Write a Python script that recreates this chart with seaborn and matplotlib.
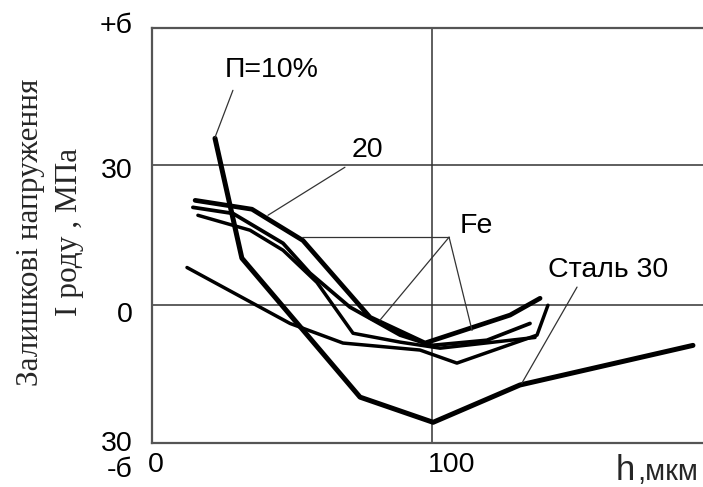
import matplotlib
matplotlib.use("Agg")
import matplotlib.pyplot as plt
import matplotlib.transforms as mtransforms
import seaborn as sns
import pandas as pd

# ---- data ----
a_x = [22.5, 32.1, 74.3, 100.4, 131.4, 193.2]
a_y = [35.8, 10.1, -19.7, -25.1, -17.1, -8.6]

b_x = [12.5, 49.3, 68.2, 95.7, 108.9, 137.5, 141.4]
b_y = [8.1, -3.9, -8.1, -9.6, -12.4, -6.4, 0.0]

c_x = [15.4, 35.7, 41.1, 53.9, 77.9, 97.5, 127.9, 138.6]
c_y = [22.5, 20.6, 18.6, 13.9, -2.6, -8.1, -2.1, 1.5]

d_x = [14.6, 28.9, 46.8, 56.4, 70.7, 88.6, 100.0, 119.6, 135.0]
d_y = [21.0, 19.7, 13.3, 6.9, -0.4, -6.4, -8.6, -7.5, -3.9]

e_x = [16.4, 35.0, 46.8, 58.9, 71.8, 88.6, 102.9, 136.8]
e_y = [19.3, 16.1, 11.8, 4.9, -6.0, -7.9, -9.2, -6.9]

x_ticks = [0, 100]
x_tick_labels = ["0", "100"]
y_ticks = [59.4, 30, 0, -29.6]
y_tick_labels = ["+б", "30", "0", "30\n-б"]

labels = ["П=10%", "20", "Fe", "Сталь 30"]
label_x = [42.9, 77.1, 115.7, 162.9]
label_y = [50.4, 33.4, 16.9, 7.5]

leaders = [
    [(28.9, 46.1), (22.5, 36.0)],
    [(68.9, 29.6), (41.4, 19.3)],
    [(106.1, 14.6), (53.6, 14.6)],
    [(106.1, 14.6), (81.4, -3.2)],
    [(106.1, 14.6), (114.3, -5.4)],
    [(151.8, 3.9), (132.1, -16.7)],
]

curves = {
    "A": (a_x, a_y, 3.6),
    "B": (b_x, b_y, 2.5),
    "C": (c_x, c_y, 3.4),
    "D": (d_x, d_y, 2.7),
    "E": (e_x, e_y, 2.5),
}

sns.set_theme(style="white")
plt.rcParams["font.family"] = ["Liberation Sans", "DejaVu Sans"]

W, H = 703, 487
fig = plt.figure(figsize=(W / 100, H / 100), dpi=100)
L, R, T, B = 152, 703, 28.3, 443.3
ax = fig.add_axes([L / W, 1 - B / H, (R - L) / W, (B - T) / H])

for name, (xs, ys, lw) in curves.items():
    df = pd.DataFrame({"h": xs, "s": ys})
    sns.lineplot(data=df, x="h", y="s", sort=False, estimator=None,
                 color="black", lw=lw, ax=ax, solid_joinstyle="round",
                 solid_capstyle="round")

for (p0, p1) in leaders:
    ax.plot([p0[0], p1[0]], [p0[1], p1[1]], color="#333333", lw=0.9)

for t, x, y in zip(labels, label_x, label_y):
    ax.text(x, y, t, ha="center", va="center", fontsize=20.5, color="black")

ax.set_xlim(0, (R - L) / 2.8)
ax.set_ylim(-29.6, 59.4)
ax.set_xticks(x_ticks)
ax.set_xticklabels(x_tick_labels, fontsize=20.5, ha="left")
ax.set_yticks(y_ticks)
ax.set_yticklabels(y_tick_labels, fontsize=20.5, linespacing=1.0)
ax.tick_params(axis="both", length=0, colors="black")
ax.tick_params(axis="x", pad=6)
ax.tick_params(axis="y", pad=14)
for lab in ax.get_xticklabels():
    lab.set_transform(lab.get_transform() + mtransforms.ScaledTranslation(-4 / 100, 0, fig.dpi_scale_trans))
ylabs = ax.get_yticklabels()
offs = [5, -3, -7, -11]
for lab, o in zip(ylabs, offs):
    lab.set_transform(lab.get_transform() + mtransforms.ScaledTranslation(0, o / 100, fig.dpi_scale_trans))

ax.set_xlabel("")
ax.set_ylabel("")
ax.grid(True, color="#333333", lw=1.1)
for s in ["left", "top", "bottom"]:
    ax.spines[s].set_color("#555555")
    ax.spines[s].set_linewidth(1.6)
ax.spines["right"].set_visible(False)

fig.text(50 / W, 1 - 232 / H, "Залишкові напруження\nI роду , МПа", rotation=90,
         ha="center", va="center", fontsize=22.5, family=["Liberation Serif", "DejaVu Serif"],
         linespacing=1.45, multialignment="center")
fig.text(616 / W, 1 - 480 / H, "h", ha="left", va="baseline", fontsize=25)
fig.text(637 / W, 1 - 480 / H, ",мкм", ha="left", va="baseline", fontsize=21)

fig.savefig("out.png", dpi=100)
